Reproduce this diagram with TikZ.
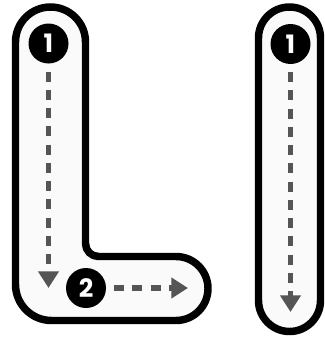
\documentclass[tikz,border=0pt]{standalone}
\usepackage{fontspec}
\setmainfont{Poppins}
\usetikzlibrary{arrows.meta}
\definecolor{trackfill}{RGB}{250,250,250}
\definecolor{guidegray}{RGB}{85,85,85}

\begin{document}
\begin{tikzpicture}[x=0.75pt, y=-0.75pt,
    badge/.style={circle, fill=black, text=white, minimum size=30pt, inner sep=0pt, outer sep=0pt,
        font=\bfseries\fontsize{19}{19}\selectfont},
    guide/.style={draw=guidegray, line width=4.1pt, dash pattern=on 7.5pt off 6.2pt,
        -{Triangle[width=15pt, length=12.5pt]}, shorten <=6pt},
    outline/.style={draw=black, fill=trackfill, line width=5.6pt, line join=round}]

    \useasboundingbox (0,0) rectangle (325,343);

    % L shaped track
    \draw[outline] (15.5,42) arc (180:360:35) -- (85.5,243.5) arc (180:90:13)
        -- (176,256.5) arc (-90:90:32) -- (51.5,320.5) arc (90:180:36) -- cycle;

    % straight track
    \draw[outline] (258.5,38) arc (180:360:31) -- (320.5,300.5) arc (0:180:31) -- cycle;

    % step badges
    \node[badge] (l1) at (48.5,43.5) {1};
    \node[badge] (l2) at (86,288) {2};
    \node[badge] (r1) at (290.5,44) {1};

    % arrow ends
    \coordinate (l1end) at (48.5,288);
    \coordinate (l2end) at (188,288);
    \coordinate (r1end) at (290.5,312);

    % stroke directions
    \draw[guide] (l1) -- (l1end);
    \draw[guide] (l2) -- (l2end);
    \draw[guide] (r1) -- (r1end);
\end{tikzpicture}
\end{document}
